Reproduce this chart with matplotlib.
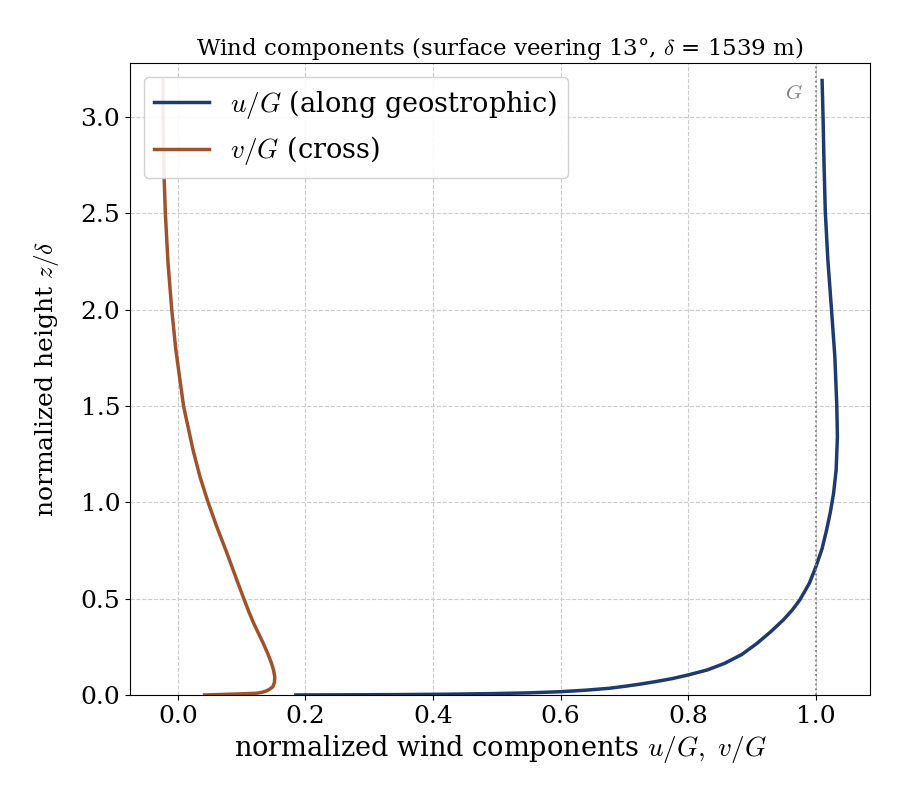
import matplotlib
matplotlib.use("Agg")
import matplotlib.pyplot as plt

plt.rcParams['font.family'] = ['DejaVu Serif']
plt.rcParams['mathtext.fontset'] = 'cm'

# profiles (z/delta, u/G) and (z/delta, v/G)
z_u = [0.000, 0.001, 0.002, 0.004, 0.007, 0.011, 0.017, 0.025, 0.035, 0.047,
       0.057, 0.070, 0.085, 0.104, 0.130, 0.164, 0.210, 0.268, 0.330, 0.389,
       0.440, 0.493, 0.580, 0.663, 0.760, 0.856, 0.950, 1.047, 1.168, 1.340,
       1.505, 1.756, 2.007, 2.260, 2.510, 2.760, 3.000, 3.190]
u_g = [0.185, 0.270, 0.340, 0.420, 0.490, 0.550, 0.600, 0.640, 0.677, 0.705,
       0.726, 0.750, 0.775, 0.800, 0.830, 0.857, 0.884, 0.908, 0.930, 0.949,
       0.963, 0.975, 0.990, 1.000, 1.010, 1.017, 1.023, 1.028, 1.032, 1.034,
       1.033, 1.030, 1.0246, 1.019, 1.015, 1.013, 1.0115, 1.010]

z_v = [0.000, 0.002, 0.004, 0.006, 0.009, 0.014, 0.021, 0.030, 0.043, 0.065,
       0.095, 0.130, 0.164, 0.215, 0.268, 0.320, 0.372, 0.435, 0.500, 0.597,
       0.750, 0.870, 1.000, 1.130, 1.270, 1.500, 1.790, 2.000, 2.250, 2.500,
       2.690, 3.000, 3.190]
v_g = [0.042, 0.062, 0.0815, 0.100, 0.123, 0.132, 0.139, 0.144, 0.149, 0.1515,
       0.152, 0.150, 0.147, 0.141, 0.134, 0.1265, 0.119, 0.111, 0.1035, 0.0925,
       0.0755, 0.0615, 0.0475, 0.035, 0.024, 0.009, -0.003, -0.0095, -0.0155, -0.0195,
       -0.0215, -0.023, -0.023]

fig = plt.figure(figsize=(9, 8.1), dpi=100)
ax = fig.add_axes([0.1444, 0.142, 0.8222, 0.780])

ax.plot(u_g, z_u, color='#1f3a6e', lw=2.5, label=r'$u/G$ (along geostrophic)')
ax.plot(v_g, z_v, color='#a0522d', lw=2.5, label=r'$v/G$ (cross)')
ax.axvline(1.0, color='gray', ls=':', lw=1.3)
ax.text(0.98, 3.12, r'$G$', color='gray', fontsize=15, ha='right', va='center')

ax.set_xlim(-0.075, 1.085)
ax.set_ylim(0, 3.28)
ax.grid(True, ls='--', color='#cccccc', lw=0.8)
ax.tick_params(labelsize=18)
ax.set_xlabel(r'normalized wind components $u/G,\ v/G$', fontsize=19.5)
ax.set_ylabel(r'normalized height $z/\delta$', fontsize=18, labelpad=14)
ax.set_title(r'Wind components (surface veering 13°, $\delta$ = 1539 m)', fontsize=16.5)
ax.legend(loc='upper left', fontsize=19.5, framealpha=0.9)

plt.savefig('out.png', dpi=100)
